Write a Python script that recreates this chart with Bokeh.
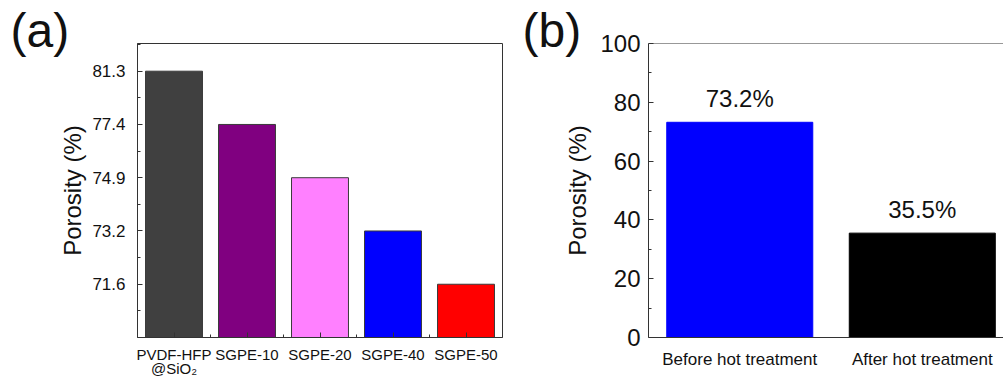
from bokeh.plotting import figure
from bokeh.layouts import row
from bokeh.models import Range1d, FixedTicker, Title, Span, LabelSet, ColumnDataSource
from bokeh.core.properties import value
from bokeh.embed import file_html
from bokeh.resources import INLINE

# ---------------- data ----------------
# Panel (a)
samples_a = ["PVDF-HFP\n@SiO\u2082", "SGPE-10", "SGPE-20", "SGPE-40", "SGPE-50"]
porosity_a = [81.3, 77.4, 74.9, 73.2, 71.6]
colors_a = ["#404040", "#800080", "#ff80ff", "#0000ff", "#ff0000"]

# Panel (b)
states_b = ["Before hot treatment", "After hot treatment"]
porosity_b = [73.2, 35.5]
colors_b = ["#0000ff", "#000000"]
yticks_b = [0, 20, 40, 60, 80, 100]

FONT = "Liberation Sans"
TXT = "#111111"
LINE = "#333333"
H = 380


def panel_title(text, offset):
    return Title(text=text, text_font=FONT, text_font_size="48px", text_font_style="normal",
                 text_color=TXT, align="left", offset=offset, standoff=-27)


# ---------------- panel (a) ----------------
# the y axis of (a) is ordinal: each porosity value gets its own evenly spaced level
levels = sorted(porosity_a)
xa = list(range(1, len(samples_a) + 1))
ya = [levels.index(v) + 1 for v in porosity_a]
src_a = ColumnDataSource(dict(x=xa, top=ya, color=colors_a))

pA = figure(width=520, height=H, x_range=Range1d(0.5, len(samples_a) + 0.5),
            y_range=Range1d(0, len(levels) + 0.52),
            output_backend="svg", toolbar_location=None,
            min_border_left=137, min_border_right=18, min_border_top=43, min_border_bottom=H - 337)
pA.title = panel_title("(a)", 10 - 137)
pA.vbar(x="x", top="top", width=0.78, bottom=0, fill_color="color", line_color="#3a3a3a",
        line_width=1, source=src_a)

pA.xaxis.ticker = FixedTicker(ticks=xa, minor_ticks=[i + 0.5 for i in xa[:-1]])
pA.xaxis.major_label_overrides = {i: s for i, s in zip(xa, samples_a)}
pA.yaxis.ticker = FixedTicker(ticks=list(range(1, len(levels) + 1)),
                              minor_ticks=[i + 0.5 for i in range(0, len(levels) + 1)])
pA.yaxis.major_label_overrides = {i + 1: f"{v}" for i, v in enumerate(levels)}
pA.yaxis.axis_label = "Porosity (%)"

for ax in pA.axis:
    ax.major_tick_in = 5
    ax.major_tick_out = 0
    ax.minor_tick_in = 3
    ax.minor_tick_out = 0
    ax.axis_line_color = LINE
    ax.major_tick_line_color = LINE
    ax.minor_tick_line_color = LINE
    ax.major_label_text_font = FONT
    ax.major_label_text_color = TXT
    ax.axis_label_text_font = FONT
    ax.axis_label_text_font_style = "normal"
    ax.axis_label_text_color = TXT
pA.xaxis.major_label_text_font_size = "15px"
pA.xaxis.major_label_standoff = 8
pA.xaxis.major_label_text_line_height = 0.87
pA.yaxis.major_label_text_font_size = "17px"
pA.yaxis.major_label_standoff = 12
pA.yaxis.axis_label_text_font_size = "24px"
pA.yaxis.axis_label_standoff = 3
pA.grid.visible = False
pA.outline_line_color = LINE
pA.outline_line_width = 1

# ---------------- panel (b) ----------------
xb = list(range(1, len(states_b) + 1))
src_b = ColumnDataSource(dict(x=xb, top=porosity_b, color=colors_b,
                              label=[f"{v}%" for v in porosity_b]))

pB = figure(width=483, height=H, x_range=Range1d(0.5, 2.445), y_range=Range1d(0, 100),
            output_backend="svg", toolbar_location=None,
            min_border_left=128, min_border_right=0, min_border_top=43, min_border_bottom=H - 338)
pB.title = panel_title("(b)", 2 - 128)
pB.vbar(x="x", top="top", width=0.8, bottom=0, fill_color="color", line_color="color",
        source=src_b)
pB.add_layout(LabelSet(x="x", y="top", text="label", source=src_b, y_offset=15,
                       text_align="center", text_baseline="alphabetic",
                       text_font=value(FONT), text_font_size="24px", text_color=TXT))

pB.xaxis.ticker = FixedTicker(ticks=xb)
pB.xaxis.major_label_overrides = {i: s for i, s in zip(xb, states_b)}
pB.yaxis.ticker = FixedTicker(ticks=yticks_b,
                              minor_ticks=[t + 10 for t in yticks_b[:-1]])
pB.yaxis.axis_label = "Porosity (%)"
for ax in pB.axis:
    ax.major_tick_in = 5
    ax.major_tick_out = 0
    ax.minor_tick_in = 3
    ax.minor_tick_out = 0
    ax.axis_line_color = LINE
    ax.major_tick_line_color = LINE
    ax.minor_tick_line_color = LINE
    ax.major_label_text_font = FONT
    ax.major_label_text_color = TXT
    ax.axis_label_text_font = FONT
    ax.axis_label_text_font_style = "normal"
    ax.axis_label_text_color = TXT
pB.xaxis.major_tick_in = 0
pB.xaxis.minor_tick_in = 0
pB.xaxis.major_label_text_font_size = "17px"
pB.xaxis.major_label_standoff = 12
pB.yaxis.major_label_text_font_size = "24px"
pB.yaxis.major_label_standoff = 8
pB.yaxis.axis_label_text_font_size = "24px"
pB.yaxis.axis_label_standoff = 6
pB.grid.visible = False
pB.outline_line_color = None
pB.add_layout(Span(location=100, dimension="width", line_color=LINE, line_width=1))

layout = row(pA, pB)
open("out.html", "w").write(file_html(layout, INLINE))
